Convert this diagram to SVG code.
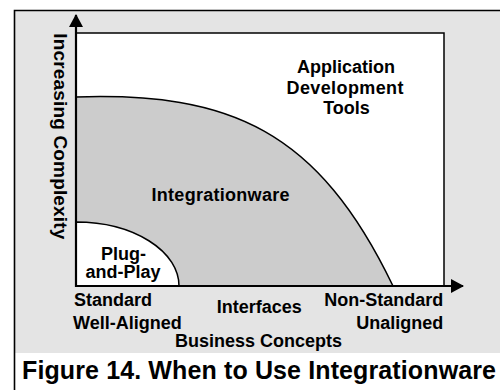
<svg xmlns="http://www.w3.org/2000/svg" width="500" height="390" viewBox="0 0 500 390">
<style>
text{font-family:"Liberation Sans",Arial,sans-serif;font-weight:bold;fill:#000}
.t{font-size:18px}
.m{text-anchor:middle}
.e{text-anchor:end}
.ax{stroke:#000;stroke-width:2.2;fill:none}
</style>
<defs>
<marker id="arr" markerWidth="13" markerHeight="14" refX="12" refY="7" orient="auto" markerUnits="userSpaceOnUse">
<path d="M0,0 L13,7 L0,14 Z" fill="#000"/>
</marker>
</defs>
<g id="frame">
<rect x="14" y="10" width="486" height="343" fill="#e4e4e4"/>
<rect x="15" y="353" width="485" height="37" fill="#fff"/>
<path d="M14.5,390 V10.5 H500" fill="none" stroke="#000" stroke-width="1.6"/>
</g>
<g id="plot-area">
<rect x="76" y="33" width="368" height="253" fill="#fff" stroke="#000" stroke-width="1.5"/>
</g>
<g id="integrationware">
<path d="M76,97 C230,92 318,130 393,286 L76,286 Z" fill="#cccccc" stroke="#000" stroke-width="1.5"/>
<text class="t m" x="220.5" y="200.7" textLength="138">Integrationware</text>
</g>
<g id="plug-and-play">
<path d="M76,222 A103,64 0 0 1 179,286 L76,286 Z" fill="#fff" stroke="#000" stroke-width="1.5"/>
<text class="t m" x="123.5" y="259.5">Plug-</text>
<text class="t m" x="123" y="277.7">and-Play</text>
</g>
<g id="application-development-tools">
<text class="t m" x="346" y="73">Application</text>
<text class="t m" x="345" y="94" textLength="117">Development</text>
<text class="t m" x="346.5" y="114">Tools</text>
</g>
<g id="connectors">
<line class="ax" x1="76" y1="287" x2="76" y2="15" marker-end="url(#arr)"/>
<line class="ax" x1="75" y1="286" x2="463" y2="286" marker-end="url(#arr)"/>
</g>
<g id="axis-labels">
<text class="t" x="54" y="33.3" transform="rotate(90 54 33.3)" style="font-size:19px" textLength="206">Increasing Complexity</text>
<text class="t" x="74" y="306">Standard</text>
<text class="t" x="73" y="329">Well-Aligned</text>
<text class="t m" x="259.3" y="313">Interfaces</text>
<text class="t e" x="443.3" y="306">Non-Standard</text>
<text class="t e" x="443.3" y="329">Unaligned</text>
<text class="t m" x="258.5" y="347">Business Concepts</text>
</g>
<g id="caption">
<text x="22" y="378.7" style="font-size:25px" textLength="474">Figure 14. When to Use Integrationware</text>
</g>
</svg>
